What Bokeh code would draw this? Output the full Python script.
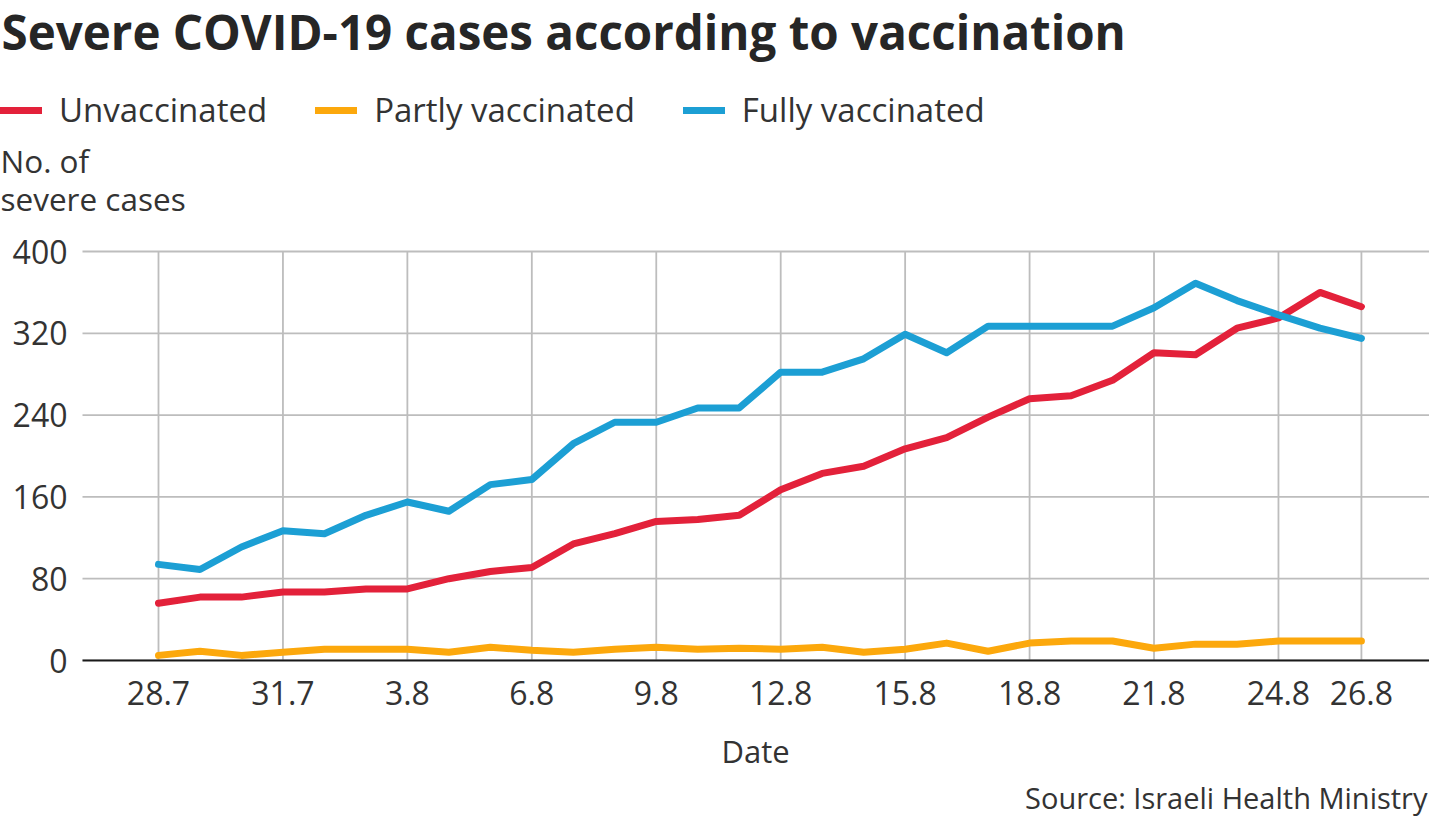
from bokeh.plotting import figure
from bokeh.models import Range1d, FixedTicker, Legend, LegendItem, Title, Label
from bokeh.embed import file_html
from bokeh.resources import INLINE

# ---- data ----
dates = ["28.7", "29.7", "30.7", "31.7",
         "1.8", "2.8", "3.8", "4.8", "5.8", "6.8", "7.8", "8.8", "9.8", "10.8",
         "11.8", "12.8", "13.8", "14.8", "15.8", "16.8", "17.8", "18.8", "19.8",
         "20.8", "21.8", "22.8", "23.8", "24.8", "25.8", "26.8"]

unvaccinated = [56, 62, 62, 67, 67, 70, 70, 80, 87, 91, 114, 124, 136, 138, 142,
                167, 183, 190, 207, 218, 238, 256, 259, 274, 301, 299, 325, 335, 360, 346]
partly_vaccinated = [5, 9, 5, 8, 11, 11, 11, 8, 13, 10, 8, 11, 13, 11, 12,
                     11, 13, 8, 11, 17, 9, 17, 19, 19, 12, 16, 16, 19, 19, 19]
fully_vaccinated = [94, 89, 111, 127, 124, 142, 155, 146, 172, 177, 212, 233, 233, 247, 247,
                    282, 282, 295, 319, 301, 327, 327, 327, 327, 345, 369, 352, 338, 325, 315]

x_tick_labels = ["28.7", "31.7", "3.8", "6.8", "9.8", "12.8", "15.8", "18.8", "21.8", "24.8", "26.8"]
y_ticks = [0, 80, 160, 240, 320, 400]

series_names = ["Unvaccinated", "Partly vaccinated", "Fully vaccinated"]
series_colors = ["#E3213A", "#FCA80C", "#1C9FD4"]

title_text = "Severe COVID-19 cases according to vaccination"
ylabel_lines = ["No. of", "severe cases"]
xlabel_text = "Date"
source_text = "Source: Israeli Health Ministry"

# ---- styling / layout constants (pixels) ----
FONT = "Open Sans"
TXT = "#333333"
GRID = "#bdbdbd"
W, H = 1429, 818
FRAME_H = 660         # frame spans from the top of the canvas down to the x axis
PLOT_LEFT = 82        # where grid lines / axis line start
FIRST_DAY_PX = 158    # pixel column of the first date
px_per_day = 41.48
px_per_unit = 409 / 400
LW = 7

xs = list(range(len(dates)))
x_ticks = [dates.index(t) for t in x_tick_labels]

x0 = -FIRST_DAY_PX / px_per_day
x1 = x0 + W / px_per_day
y1 = FRAME_H / px_per_unit
grid_x_start = x0 + PLOT_LEFT / px_per_day

p = figure(width=W, height=H, frame_width=W, frame_height=FRAME_H,
           output_backend="svg", toolbar_location=None,
           x_range=Range1d(x0, x1), y_range=Range1d(0, y1),
           min_border_left=0, min_border_right=0, min_border_top=0,
           min_border_bottom=H - FRAME_H)
p.outline_line_color = None
p.background_fill_color = "white"
p.border_fill_color = "white"
p.xgrid.visible = False
p.ygrid.visible = False

# grid lines, limited to the data area like the original
p.segment(x0=x_ticks, y0=[0] * len(x_ticks), x1=x_ticks, y1=[max(y_ticks)] * len(x_ticks),
          line_color=GRID, line_width=1.8)
p.segment(x0=[grid_x_start] * len(y_ticks), y0=y_ticks, x1=[x1] * len(y_ticks), y1=y_ticks,
          line_color=GRID, line_width=1.8)

# x axis
p.xaxis.ticker = FixedTicker(ticks=x_ticks)
p.xaxis.major_label_overrides = {int(t): lab for t, lab in zip(x_ticks, x_tick_labels)}
p.xaxis.bounds = (grid_x_start, x1)
p.xaxis.axis_line_color = "#1a1a1a"
p.xaxis.axis_line_width = 2.2
p.xaxis.major_tick_line_color = None
p.xaxis.minor_tick_line_color = None
p.xaxis.major_tick_out = 0
p.xaxis.major_tick_in = 0
p.xaxis.major_label_standoff = 20
p.xaxis.major_label_text_font = FONT
p.xaxis.major_label_text_font_size = "32px"
p.xaxis.major_label_text_color = TXT

# y axis: labels sit just left of the grid start
p.yaxis.ticker = FixedTicker(ticks=y_ticks)
p.yaxis.axis_line_color = None
p.yaxis.major_tick_line_color = None
p.yaxis.minor_tick_line_color = None
p.yaxis.major_tick_out = 0
p.yaxis.major_tick_in = 0
p.yaxis.major_label_standoff = -67
p.yaxis.major_label_text_font = FONT
p.yaxis.major_label_text_font_size = "32px"
p.yaxis.major_label_text_color = TXT

# data lines
renderers = []
for vals, col in zip([unvaccinated, partly_vaccinated, fully_vaccinated], series_colors):
    renderers.append(p.line(xs, vals, line_color=col, line_width=LW,
                            line_cap="round", line_join="round"))

# legend (inside the tall frame, above the data area)
legend = Legend(items=[LegendItem(label=n, renderers=[r]) for n, r in zip(series_names, renderers)],
                orientation="horizontal", location=(0, 528),
                glyph_width=42, glyph_height=20, label_standoff=17, spacing=48,
                padding=0, margin=0, border_line_color=None, background_fill_alpha=0,
                label_text_font=FONT, label_text_font_size="33px", label_text_color=TXT)
p.add_layout(legend, "center")

# title and y caption
p.add_layout(Label(x=1, y=629, x_units="screen", y_units="screen",
                   text=title_text, text_font=FONT, text_font_size="47.5px",
                   text_font_style="bold", text_color="#262626",
                   text_baseline="alphabetic", text_align="left"))
for line_txt, ypos in zip(ylabel_lines, [500, 462]):
    p.add_layout(Label(x=0, y=ypos, x_units="screen", y_units="screen",
                       text=line_txt, text_font=FONT, text_font_size="31.5px",
                       text_color=TXT, text_baseline="alphabetic", text_align="left"))

# x axis caption, centred under the data area, then the source note
xlabel = Title(text=xlabel_text, align="left", offset=721, vertical_align="top",
               standoff=45, text_font=FONT, text_font_size="31px",
               text_font_style="normal", text_color=TXT)
p.add_layout(xlabel, "below")
source = Title(text=source_text, align="right", offset=2, vertical_align="top",
               standoff=-37, text_font=FONT, text_font_size="29px",
               text_font_style="normal", text_color=TXT)
p.add_layout(source, "below")

open("out.html", "w").write(file_html(p, INLINE))
